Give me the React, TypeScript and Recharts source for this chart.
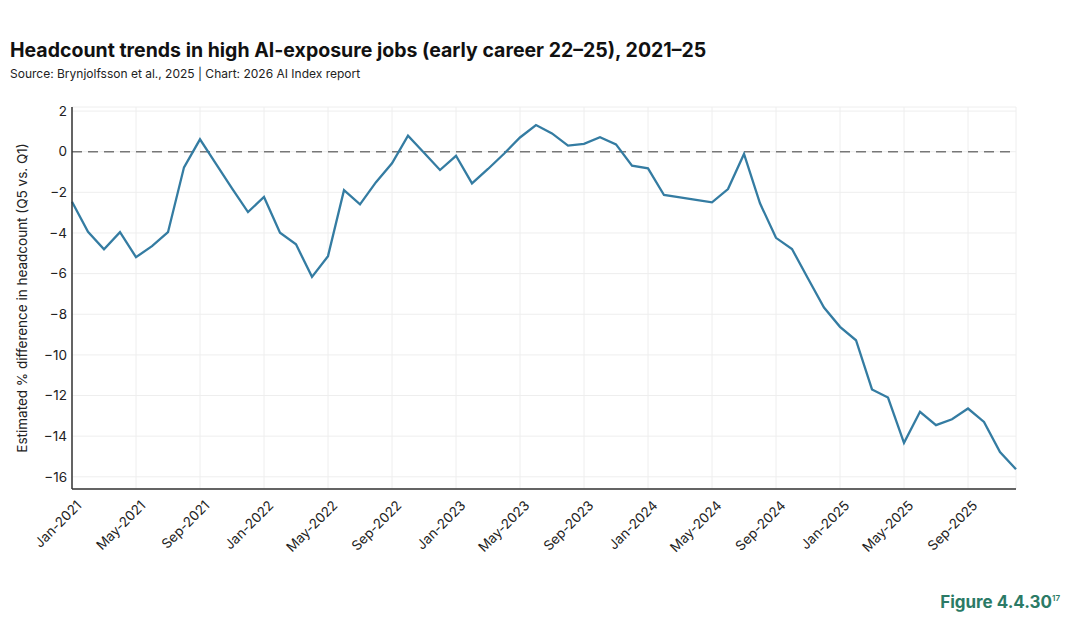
import { LineChart, Line, XAxis, YAxis, CartesianGrid, ReferenceLine } from 'recharts'

const MONTH_NAMES = ['Jan', 'Feb', 'Mar', 'Apr', 'May', 'Jun', 'Jul', 'Aug', 'Sep', 'Oct', 'Nov', 'Dec']
const YEARS = [2021, 2022, 2023, 2024, 2025]

// Monthly categories Jan-2021 .. Dec-2025
const months: string[] = YEARS.flatMap((y) => MONTH_NAMES.map((m) => `${m}-${y}`))

// Estimated % difference in headcount (Q5 vs. Q1)
const headcountDiff = [
  -2.46, -3.94, -4.8, -3.96, -5.19, -4.65, -3.96, -0.77, 0.61, -0.6, -1.8, -2.97,
  -2.23, -3.99, -4.56, -6.16, -5.14, -1.89, -2.59, -1.5, -0.57, 0.79, -0.05, -0.9,
  -0.2, -1.56, -0.85, -0.1, 0.7, 1.31, 0.9, 0.3, 0.39, 0.71, 0.36, -0.69,
  -0.82, -2.13, -2.25, -2.37, -2.49, -1.84, -0.11, -2.54, -4.24, -4.79, -6.24, -7.67,
  -8.62, -9.28, -11.7, -12.1, -14.33, -12.8, -13.46, -13.17, -12.64, -13.3, -14.78, -15.63,
]

const xTicks = months.filter((_m, i) => i % 4 === 0)
const yTicks = [-16, -14, -12, -10, -8, -6, -4, -2, 0, 2]

const data = months.map((m, i) => ({ month: m, value: headcountDiff[i] }))

const FONT = 'Inter, "Noto Sans", sans-serif'
const LINE_COLOR = '#347ca2'

function fmtY(v: number): string {
  return v < 0 ? `\u2212${Math.abs(v)}` : `${v}`
}

// eslint-disable-next-line @typescript-eslint/no-explicit-any
function XTick(props: any) {
  const { x, y, payload } = props
  return (
    <g transform={`translate(${x + 7},${y + 6})`}>
      <text
        textAnchor="end"
        transform="rotate(-45)"
        fontSize={13.5}
        fill="#222"
        fontFamily={FONT}
        dy="0.35em"
      >
        {payload.value}
      </text>
    </g>
  )
}

export default function App() {
  return (
    <div
      style={{
        position: 'absolute',
        left: 0,
        top: 0,
        width: 1080,
        height: 633,
        background: '#fff',
        fontFamily: FONT,
        overflow: 'hidden',
      }}
    >
      <div
        style={{
          position: 'absolute',
          left: 10,
          top: 38,
          fontSize: 19.5,
          fontWeight: 700,
          color: '#111',
          whiteSpace: 'nowrap',
        }}
      >
        Headcount trends in high AI-exposure jobs (early career 22–25), 2021–25
      </div>
      <div
        style={{
          position: 'absolute',
          left: 10,
          top: 66,
          fontSize: 12,
          color: '#222',
          whiteSpace: 'nowrap',
        }}
      >
        Source: Brynjolfsson et al., 2025 | Chart: 2026 AI Index report
      </div>

      <LineChart
        width={1080}
        height={633}
        data={data}
        margin={{ top: 107, right: 64, bottom: 84, left: 22 }}
        style={{ position: 'absolute', left: 0, top: 0 }}
      >
        <CartesianGrid stroke="#eeeeee" strokeWidth={1} />
        <XAxis
          dataKey="month"
          ticks={xTicks}
          interval={0}
          height={60}
          tick={<XTick />}
          tickLine={false}
          axisLine={{ stroke: '#333', strokeWidth: 1.5 }}
        />
        <YAxis
          type="number"
          domain={[-16.6, 2.2]}
          ticks={yTicks}
          width={50}
          tickSize={3}
          tickFormatter={fmtY}
          tick={{ fontSize: 13.5, fill: '#222', fontFamily: FONT }}
          tickLine={false}
          axisLine={{ stroke: '#333', strokeWidth: 1.5 }}
          allowDataOverflow
          label={{
            value: 'Estimated % difference in headcount (Q5 vs. Q1)',
            angle: -90,
            position: 'insideLeft',
            offset: 0,
            style: { fontSize: 13.5, fill: '#222', fontFamily: FONT, textAnchor: 'middle' },
          }}
        />
        <ReferenceLine y={0} stroke="#777" strokeWidth={1.5} strokeDasharray="10 6" />
        <Line
          type="linear"
          dataKey="value"
          stroke={LINE_COLOR}
          strokeWidth={2.3}
          dot={false}
          isAnimationActive={false}
        />
      </LineChart>

      <div
        style={{
          position: 'absolute',
          right: 20,
          top: 592,
          fontSize: 17,
          fontWeight: 700,
          color: '#2b7a66',
          whiteSpace: 'nowrap',
        }}
      >
        Figure 4.4.30
        <sup style={{ fontSize: 8, fontWeight: 600, verticalAlign: 'top', position: 'relative', top: 1 }}>17</sup>
      </div>
    </div>
  )
}
